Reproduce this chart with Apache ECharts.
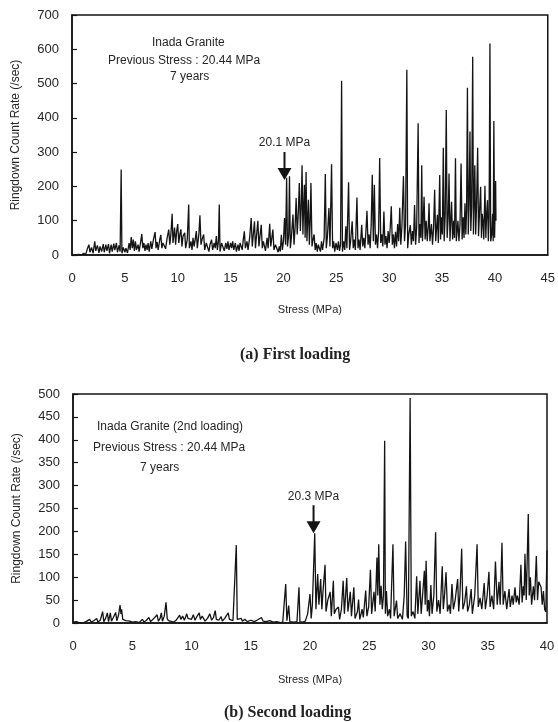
<!DOCTYPE html>
<html>
<head>
<meta charset="utf-8">
<script src="https://cdn.jsdelivr.net/npm/echarts@6/dist/echarts.min.js"></script>
<style>
html,body{margin:0;padding:0;background:#fff;}
#c{width:558px;height:722px;}
</style>
</head>
<body>
<div id="c"></div>
<script>
// ---- data (stress MPa, ringdown count rate /sec) ----
const firstLoading = [
[0.3,0],[0.6,2],[0.9,0],[1.1,5],[1.3,2],[1.45,18],[1.6,30],[1.7,8],[1.85,22],[2.0,5],[2.15,40],[2.25,12],[2.4,28],[2.55,6],[2.65,25],[2.8,10],[2.95,32],[3.05,8],[3.2,30],[3.3,12],[3.45,32],[3.55,5],[3.7,30],[3.8,10],[3.95,33],[4.05,14],[4.2,35],[4.3,8],[4.45,28],[4.55,10],[4.65,249],[4.72,5],[4.85,22],[5.0,8],[5.1,20],[5.25,6],[5.4,35],[5.5,15],[5.6,52],[5.7,20],[5.8,45],[5.9,12],[6.0,40],[6.1,15],[6.25,30],[6.35,10],[6.5,40],[6.6,61],[6.7,20],[6.8,35],[6.9,12],[7.0,30],[7.1,15],[7.2,35],[7.3,10],[7.45,40],[7.55,18],[7.7,45],[7.86,67],[7.95,20],[8.05,38],[8.15,15],[8.3,45],[8.4,59],[8.5,20],[8.6,35],[8.77,40],[8.85,18],[9.0,50],[9.15,74],[9.25,30],[9.35,60],[9.47,120],[9.55,35],[9.7,80],[9.8,30],[9.9,70],[10.0,90],[10.1,35],[10.2,60],[10.3,75],[10.4,25],[10.5,55],[10.66,65],[10.75,20],[10.9,45],[11.04,147],[11.1,20],[11.25,40],[11.35,15],[11.45,50],[11.55,25],[11.65,45],[11.76,70],[11.85,20],[12.0,60],[12.1,116],[12.2,30],[12.3,45],[12.45,60],[12.55,15],[12.7,35],[12.86,40],[12.95,10],[13.05,30],[13.2,45],[13.3,15],[13.45,35],[13.55,20],[13.65,55],[13.75,15],[13.85,40],[13.93,147],[14.0,10],[14.15,35],[14.3,30],[14.4,12],[14.55,35],[14.65,18],[14.75,40],[14.85,15],[15.0,35],[15.1,20],[15.2,40],[15.3,15],[15.45,35],[15.55,10],[15.7,30],[15.8,12],[15.9,35],[16.0,40],[16.1,15],[16.2,45],[16.3,69],[16.4,20],[16.55,40],[16.65,15],[16.8,50],[16.95,108],[17.05,25],[17.15,60],[17.26,98],[17.35,20],[17.45,55],[17.58,100],[17.68,25],[17.8,60],[17.9,88],[18.0,20],[18.1,40],[18.2,40],[18.3,12],[18.45,50],[18.55,20],[18.7,91],[18.8,25],[18.9,50],[19.0,74],[19.1,15],[19.25,30],[19.4,30],[19.5,8],[19.6,25],[19.7,10],[19.8,59],[19.9,15],[20.0,40],[20.1,108],[20.2,30],[20.3,225],[20.38,25],[20.5,60],[20.57,230],[20.65,20],[20.75,50],[20.9,118],[21.0,30],[21.1,80],[21.2,166],[21.3,60],[21.4,120],[21.5,210],[21.6,70],[21.68,140],[21.76,262],[21.84,60],[21.9,130],[21.98,205],[22.05,50],[22.14,242],[22.22,40],[22.3,110],[22.36,161],[22.45,30],[22.52,90],[22.6,210],[22.7,25],[22.8,45],[22.9,60],[23.0,15],[23.1,35],[23.2,10],[23.3,30],[23.4,30],[23.5,10],[23.6,40],[23.7,15],[23.85,50],[23.96,236],[24.05,20],[24.15,50],[24.3,137],[24.4,25],[24.55,265],[24.65,20],[24.75,40],[24.85,10],[24.97,35],[25.1,15],[25.2,40],[25.3,12],[25.4,30],[25.5,508],[25.58,10],[25.7,40],[25.8,15],[25.9,84],[26.0,20],[26.16,212],[26.25,15],[26.35,40],[26.5,98],[26.6,20],[26.7,45],[26.8,15],[26.95,168],[27.05,20],[27.15,45],[27.25,15],[27.4,88],[27.5,25],[27.6,50],[27.7,20],[27.8,70],[27.9,129],[28.0,30],[28.1,60],[28.2,20],[28.3,90],[28.4,234],[28.5,40],[28.6,205],[28.7,30],[28.8,60],[28.9,20],[29.0,70],[29.1,283],[29.2,35],[29.3,60],[29.4,25],[29.5,127],[29.6,30],[29.7,55],[29.8,20],[29.9,70],[30.0,35],[30.1,80],[30.2,142],[30.3,30],[30.4,60],[30.5,20],[30.6,68],[30.7,25],[30.8,90],[30.9,40],[31.0,138],[31.1,30],[31.2,80],[31.35,230],[31.45,40],[31.55,90],[31.67,540],[31.75,20],[31.85,60],[32.0,87],[32.1,30],[32.2,70],[32.3,40],[32.4,146],[32.5,30],[32.6,80],[32.74,384],[32.82,35],[32.9,90],[33.0,50],[33.08,262],[33.15,40],[33.22,100],[33.3,170],[33.4,45],[33.5,100],[33.6,40],[33.7,85],[33.77,151],[33.85,40],[34.0,90],[34.1,30],[34.2,80],[34.3,190],[34.4,40],[34.56,117],[34.65,35],[34.78,233],[34.86,45],[34.95,110],[35.03,60],[35.12,313],[35.2,40],[35.3,120],[35.4,423],[35.48,50],[35.58,110],[35.66,238],[35.75,40],[35.9,155],[36.0,45],[36.1,100],[36.18,50],[36.27,282],[36.35,40],[36.5,100],[36.6,40],[36.7,90],[36.8,267],[36.9,45],[37.0,110],[37.08,50],[37.17,151],[37.25,60],[37.32,130],[37.4,488],[37.48,60],[37.56,150],[37.64,360],[37.72,70],[37.8,140],[37.9,578],[37.97,60],[38.03,150],[38.1,262],[38.18,60],[38.26,140],[38.37,313],[38.45,55],[38.55,130],[38.65,199],[38.73,50],[38.8,120],[38.87,100],[38.95,45],[39.06,202],[39.14,50],[39.22,120],[39.3,160],[39.38,40],[39.45,110],[39.53,617],[39.6,40],[39.7,60],[39.78,120],[39.84,40],[39.9,391],[39.97,50],[40.07,216],[40.1,100]
];
const secondLoading = [
[0,2],[0.3,3],[0.6,0],[0.75,4],[0.9,1],[1.1,3],[1.25,0],[1.4,8],[1.55,2],[1.75,5],[2.0,10],[2.1,2],[2.3,6],[2.5,25],[2.6,3],[2.75,10],[2.9,22],[3.0,3],[3.15,22],[3.25,4],[3.4,12],[3.6,23],[3.7,5],[3.85,18],[3.97,39],[4.05,20],[4.1,30],[4.2,8],[4.3,12],[4.45,5],[4.6,8],[4.8,4],[5.0,2],[5.3,3],[5.6,1],[5.85,8],[6.0,2],[6.2,6],[6.4,12],[6.55,3],[6.7,5],[6.9,12],[7.1,18],[7.2,4],[7.35,10],[7.45,22],[7.55,4],[7.7,15],[7.85,45],[7.95,10],[8.05,5],[8.2,3],[8.5,2],[8.7,6],[8.85,10],[9.0,17],[9.1,8],[9.25,15],[9.4,6],[9.6,20],[9.7,10],[9.85,12],[10.0,8],[10.15,18],[10.3,6],[10.45,14],[10.65,22],[10.75,8],[10.9,15],[11.0,12],[11.15,4],[11.35,10],[11.55,20],[11.7,6],[11.85,12],[12.0,27],[12.1,8],[12.3,6],[12.5,14],[12.6,4],[12.8,10],[13.1,22],[13.2,8],[13.35,12],[13.5,5],[13.65,8],[13.78,170],[13.86,8],[14.0,5],[14.2,10],[14.3,4],[14.5,8],[14.7,3],[15.0,6],[15.1,9],[15.3,3],[15.6,7],[15.9,12],[16.05,4],[16.3,3],[16.6,5],[16.9,2],[17.2,3],[17.5,1],[17.7,2],[17.95,85],[18.05,5],[18.2,38],[18.3,3],[18.6,2],[18.9,3],[19.07,78],[19.15,3],[19.4,2],[19.6,4],[19.8,20],[20.0,63],[20.1,10],[20.2,40],[20.4,196],[20.5,30],[20.65,107],[20.75,40],[20.9,96],[21.0,30],[21.1,70],[21.27,127],[21.35,25],[21.5,50],[21.7,68],[21.8,15],[21.97,92],[22.05,20],[22.2,30],[22.4,35],[22.5,8],[22.65,30],[22.8,92],[22.9,20],[23.1,98],[23.2,25],[23.4,68],[23.5,15],[23.7,78],[23.8,10],[24.0,25],[24.1,51],[24.2,8],[24.4,30],[24.5,12],[24.7,71],[24.8,15],[24.95,35],[25.1,116],[25.2,20],[25.4,68],[25.5,25],[25.65,143],[25.72,60],[25.8,172],[25.9,40],[26.0,81],[26.1,30],[26.2,60],[26.3,398],[26.36,20],[26.45,70],[26.55,15],[26.7,30],[26.8,10],[27.0,172],[27.1,15],[27.3,49],[27.4,10],[27.6,20],[27.8,8],[27.95,60],[28.07,178],[28.2,15],[28.3,10],[28.45,491],[28.55,15],[28.7,25],[28.85,10],[29.0,102],[29.1,20],[29.28,92],[29.38,20],[29.5,60],[29.65,114],[29.72,40],[29.8,136],[29.9,25],[30.0,50],[30.08,15],[30.2,83],[30.3,20],[30.45,60],[30.6,198],[30.7,25],[30.85,50],[30.98,20],[31.16,124],[31.25,30],[31.35,60],[31.48,111],[31.6,25],[31.75,40],[31.85,20],[31.98,85],[32.1,30],[32.25,50],[32.46,96],[32.55,25],[32.65,60],[32.8,162],[32.9,30],[33.05,45],[33.2,80],[33.3,25],[33.45,40],[33.6,74],[33.7,20],[33.9,60],[34.1,172],[34.2,35],[34.35,55],[34.5,30],[34.7,87],[34.8,30],[34.95,60],[35.1,112],[35.2,35],[35.35,60],[35.5,30],[35.65,134],[35.8,40],[35.95,90],[36.05,40],[36.2,175],[36.3,40],[36.45,70],[36.6,30],[36.8,74],[36.9,35],[37.05,60],[37.15,40],[37.3,78],[37.4,45],[37.5,60],[37.65,40],[37.8,127],[37.9,45],[38.0,80],[38.07,60],[38.14,151],[38.25,50],[38.42,238],[38.5,60],[38.6,100],[38.7,40],[38.85,80],[38.95,50],[39.1,146],[39.2,50],[39.3,90],[39.5,78],[39.6,40],[39.7,70],[39.8,30],[39.9,24],[40.0,158]
];
const firstOnset = [20.1, 219];   // arrow "20.1 MPa"
const secondOnset = [20.3, 196];  // arrow "20.3 MPa"
const firstNotes = ['Inada Granite', 'Previous Stress : 20.44 MPa', '7 years'];
const secondNotes = ['Inada Granite (2nd loading)', 'Previous Stress : 20.44 MPa', '7 years'];

const chart = echarts.init(document.getElementById('c'), null, {renderer: 'canvas'});
const INK = '#141414';
const TXT = '#262626';
const SANS = '"Liberation Sans", Arial, sans-serif';
const SERIF = '"Liberation Serif", "Times New Roman", serif';
const arrowPath = 'path://M6,0 L8,0 L8,16 L14,16 L7,28 L0,16 L6,16 Z';

function xAxis(gi, max, gap) {
  return {
    type: 'value', gridIndex: gi, min: 0, max: max, interval: 5,
    axisLine: {show: true, onZero: false, lineStyle: {color: INK, width: 1.5}},
    axisTick: {show: false}, splitLine: {show: false},
    axisLabel: {color: TXT, fontSize: 13, fontFamily: SANS, margin: 17},
    name: 'Stress (MPa)', nameLocation: 'middle', nameGap: gap,
    nameTextStyle: {color: TXT, fontSize: 11, fontFamily: SANS}
  };
}
function yAxis(gi, max, step) {
  return {
    type: 'value', gridIndex: gi, min: 0, max: max, interval: step,
    axisLine: {show: true, onZero: false, lineStyle: {color: INK, width: 1.5}},
    axisTick: {show: true, inside: true, length: 5, lineStyle: {color: INK, width: 1.2}},
    splitLine: {show: false},
    axisLabel: {color: TXT, fontSize: 13, fontFamily: SANS, margin: 13},
    name: 'Ringdown Count Rate (/sec)', nameLocation: 'middle', nameGap: 50,
    nameTextStyle: {color: TXT, fontSize: 12, fontFamily: SANS}
  };
}
function notes(lines, xs, ys) {
  return lines.map((t, i) => ({
    type: 'text', left: xs[i], top: ys[i],
    style: {text: t, fill: TXT, font: '12px ' + SANS}
  }));
}
function arrowMark(pt, label) {
  return {
    silent: true, animation: false,
    data: [{coord: pt}],
    symbol: arrowPath, symbolSize: [14, 28], symbolOffset: [0, '-50%'],
    itemStyle: {color: INK},
    label: {show: true, position: 'top', distance: 3, formatter: label,
            color: TXT, fontSize: 12, fontFamily: SANS}
  };
}

chart.setOption({
  animation: false,
  backgroundColor: '#fff',
  grid: [
    {left: 72, top: 15, width: 477, height: 240, show: true, borderColor: INK, borderWidth: 1.5, backgroundColor: 'transparent'},
    {left: 73, top: 394, width: 474, height: 229, show: true, borderColor: INK, borderWidth: 1.5, backgroundColor: 'transparent'}
  ],
  xAxis: [xAxis(0, 45, 49), xAxis(1, 40, 51)],
  yAxis: [yAxis(0, 700, 100), yAxis(1, 500, 50)],
  series: [
    {type: 'line', xAxisIndex: 0, yAxisIndex: 0, data: firstLoading, showSymbol: false,
     lineStyle: {color: INK, width: 1.3}, markPoint: arrowMark(firstOnset, '20.1 MPa')},
    {type: 'line', xAxisIndex: 1, yAxisIndex: 1, data: secondLoading, showSymbol: false,
     lineStyle: {color: INK, width: 1.3}, markPoint: arrowMark(secondOnset, '20.3 MPa')}
  ],
  graphic: [
    ...notes(firstNotes, [152, 108, 170], [37, 55, 71]),
    ...notes(secondNotes, [97, 93, 140], [421, 442, 462]),
    {type: 'text', left: 240, top: 347, style: {text: '(a) First loading', fill: '#222', font: 'bold 16px ' + SERIF}},
    {type: 'text', left: 224, top: 705, style: {text: '(b) Second loading', fill: '#222', font: 'bold 16px ' + SERIF}}
  ]
});
</script>
</body>
</html>
